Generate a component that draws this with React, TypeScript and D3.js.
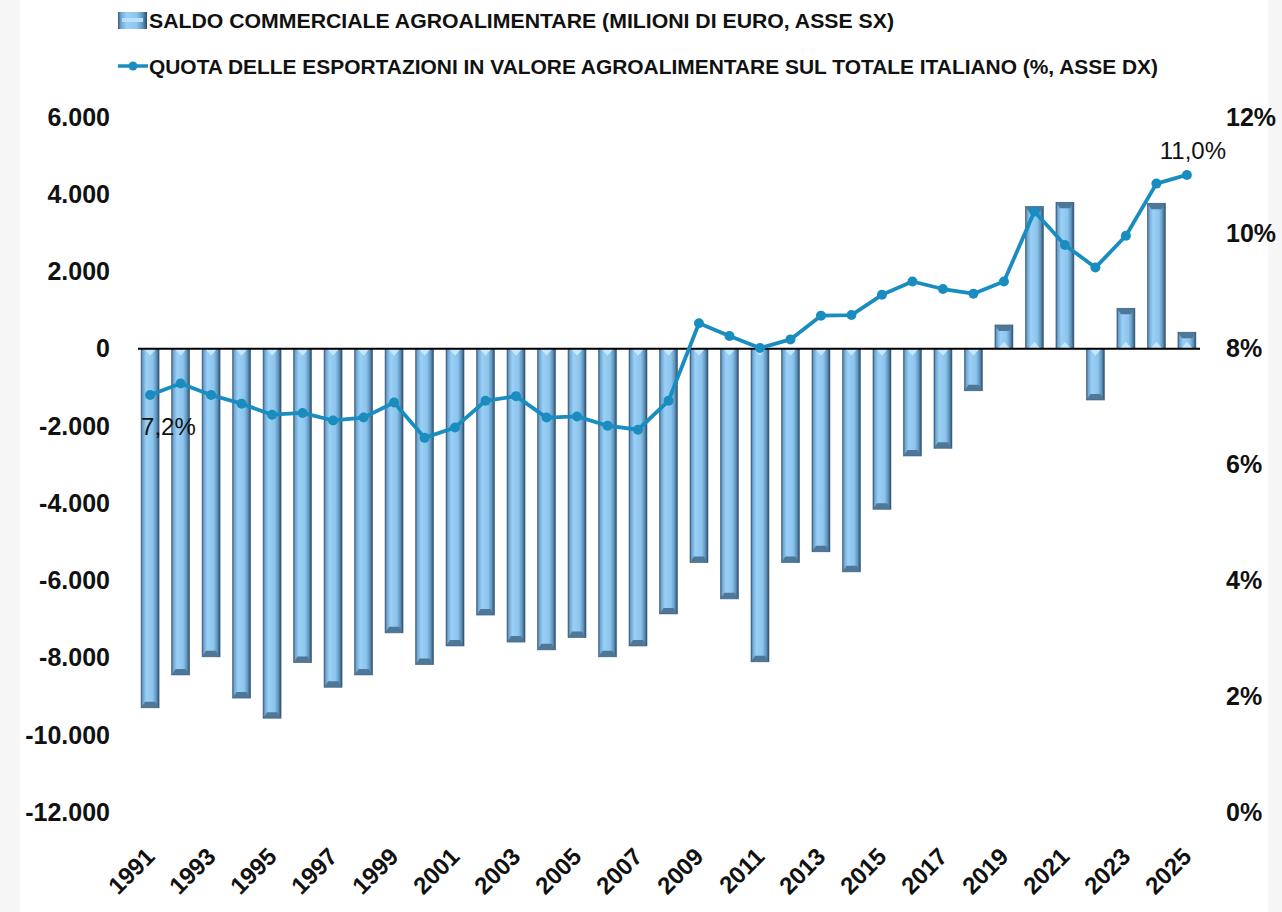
import React, { useRef, useEffect } from "react";
import * as d3 from "d3";

const years = d3.range(1991, 2026).map(String);

// saldo commerciale agroalimentare, milioni di euro (asse sx)
const saldo = [
  -9300, -8450, -7980, -9050, -9570, -8130, -8770, -8450, -7360, -8180,
  -7700, -6900, -7600, -7800, -7480, -7980, -7700, -6870, -5540, -6480,
  -8110, -5540, -5260, -5780, -4160, -2780, -2580, -1090, 615, 3680,
  3790, -1330, 1045, 3765, 425,
];

// quota export agroalimentare sul totale, % (asse dx)
const quota = [
  7.2, 7.4, 7.2, 7.05, 6.86, 6.89, 6.76, 6.81, 7.07, 6.46,
  6.64, 7.1, 7.18, 6.81, 6.83, 6.67, 6.6, 7.1, 8.44, 8.22,
  8.01, 8.16, 8.57, 8.58, 8.93, 9.16, 9.03, 8.95, 9.16, 10.37,
  9.79, 9.4, 9.95, 10.85, 11.0,
];

const leftTicks = [6000, 4000, 2000, 0, -2000, -4000, -6000, -8000, -10000, -12000];
const rightTicks = [0, 2, 4, 6, 8, 10, 12];
const xTickYears = years.filter((d, i) => i % 2 === 0);

const legendBar = "SALDO COMMERCIALE AGROALIMENTARE (MILIONI DI EURO, ASSE SX)";
const legendLine = "QUOTA DELLE ESPORTAZIONI IN VALORE AGROALIMENTARE SUL TOTALE ITALIANO (%, ASSE DX)";

const W = 1282;
const H = 912;
const LINE_COLOR = "#1a8dc0";
const FONT = "'Liberation Sans', Arial, sans-serif";

export default function App() {
  const svgRef = useRef<SVGSVGElement>(null);

  useEffect(() => {
    document.body.style.margin = "0";
    const svg = d3.select(svgRef.current);
    svg.selectAll("*").remove();

    const loc = d3.formatLocale({
      decimal: ",",
      thousands: ".",
      grouping: [3],
      currency: ["", ""],
      minus: "-",
    });
    const fmtK = loc.format(",d");

    const x = d3.scaleBand().domain(years).range([135, 1202]).paddingInner(0.41).paddingOuter(0.2);
    const yL = d3.scaleLinear().domain([-12000, 6000]).range([812, 117]);
    const yR = d3.scaleLinear().domain([0, 12]).range([812, 117]);

    svg.append("rect").attr("width", W).attr("height", H).attr("fill", "#ffffff");
    svg.append("rect").attr("width", 20).attr("height", H).attr("fill", "#f6f6f6");
    svg.append("rect").attr("x", W - 14).attr("width", 14).attr("height", H).attr("fill", "#f6f6f6");

    const defs = svg.append("defs");
    const grad = defs.append("linearGradient").attr("id", "barGrad").attr("x1", "0").attr("x2", "1").attr("y1", "0").attr("y2", "0");
    [
      [0, "#36597a"],
      [0.1, "#6fa6d2"],
      [0.3, "#9ad0f6"],
      [0.65, "#8cc4ec"],
      [0.85, "#5f93bc"],
      [1, "#2b4a66"],
    ].forEach(([o, c]) => grad.append("stop").attr("offset", o as number).attr("stop-color", c as string));

    // legend
    const lg = svg.append("g");
    lg.append("rect").attr("x", 118).attr("y", 12).attr("width", 29).attr("height", 17).attr("fill", "url(#barGrad)");
    lg.append("rect").attr("x", 122).attr("y", 18).attr("width", 21).attr("height", 4).attr("fill", "#b8e2fb");
    lg.append("text")
      .attr("x", 149).attr("y", 28)
      .attr("font-family", FONT).attr("font-weight", "bold").attr("font-size", 21)
      .attr("textLength", 745).attr("lengthAdjust", "spacingAndGlyphs")
      .attr("fill", "#111").text(legendBar);
    lg.append("line").attr("x1", 118).attr("x2", 148).attr("y1", 66).attr("y2", 66)
      .attr("stroke", LINE_COLOR).attr("stroke-width", 3.5);
    lg.append("circle").attr("cx", 133).attr("cy", 66).attr("r", 4.5).attr("fill", LINE_COLOR);
    lg.append("text")
      .attr("x", 149).attr("y", 74)
      .attr("font-family", FONT).attr("font-weight", "bold").attr("font-size", 21)
      .attr("textLength", 1009).attr("lengthAdjust", "spacingAndGlyphs")
      .attr("fill", "#111").text(legendLine);

    // left axis labels
    svg.append("g").selectAll("text").data(leftTicks).join("text")
      .attr("x", 110).attr("y", (d) => yL(d)).attr("dy", "0.35em")
      .attr("text-anchor", "end")
      .attr("font-family", FONT).attr("font-weight", "bold").attr("font-size", 25)
      .attr("fill", "#111")
      .text((d) => fmtK(d));

    // right axis labels
    svg.append("g").selectAll("text").data(rightTicks).join("text")
      .attr("x", 1226).attr("y", (d) => yR(d)).attr("dy", "0.35em")
      .attr("text-anchor", "start")
      .attr("font-family", FONT).attr("font-weight", "bold").attr("font-size", 25)
      .attr("fill", "#111")
      .text((d) => d + "%");

    // bars
    const bw = x.bandwidth();
    const bars = svg.append("g").selectAll("g").data(years).join("g");
    bars.each(function (yr, i) {
      const g = d3.select(this);
      const v = saldo[i];
      const x0 = x(yr)!;
      const x1 = x0 + bw;
      const y0 = yL(0);
      const y1 = yL(v);
      const dir = v < 0 ? 1 : -1;
      g.append("rect")
        .attr("x", x0).attr("width", bw)
        .attr("y", Math.min(y0, y1)).attr("height", Math.abs(y1 - y0))
        .attr("fill", "url(#barGrad)");
      // light chevron at zero end
      g.append("polygon")
        .attr("points", [[x0 + 3, y0], [x1 - 3, y0], [x0 + bw / 2, y0 + dir * 7]].map((p) => p.join(",")).join(" "))
        .attr("fill", "#c4e9fd");
      // bevel at far end
      g.append("polygon")
        .attr("points", [[x0, y1], [x1, y1], [x1 - 4, y1 - dir * 6], [x0 + 4, y1 - dir * 6]].map((p) => p.join(",")).join(" "))
        .attr("fill", "#4f7798");
      g.append("rect")
        .attr("x", x0).attr("width", bw)
        .attr("y", Math.min(y0, y1)).attr("height", Math.abs(y1 - y0))
        .attr("fill", "none").attr("stroke", "#3a5d7c").attr("stroke-width", 0.8).attr("stroke-opacity", 0.7);
    });

    // zero line
    svg.append("line")
      .attr("x1", 138).attr("x2", 1200)
      .attr("y1", yL(0)).attr("y2", yL(0))
      .attr("stroke", "#000").attr("stroke-width", 2);

    // line series
    const cx = (i: number) => x(years[i])! + bw / 2;
    const line = d3.line<number>().x((d, i) => cx(i)).y((d) => yR(d));
    svg.append("path").datum(quota)
      .attr("d", line)
      .attr("fill", "none").attr("stroke", LINE_COLOR).attr("stroke-width", 3.8)
      .attr("stroke-linejoin", "round");
    svg.append("g").selectAll("circle").data(quota).join("circle")
      .attr("cx", (d, i) => cx(i)).attr("cy", (d) => yR(d)).attr("r", 5)
      .attr("fill", LINE_COLOR);

    // data labels
    const lab = d3.format(".1f");
    svg.append("text")
      .attr("x", cx(0) - 9).attr("y", yR(quota[0]) + 40)
      .attr("font-family", FONT).attr("font-size", 24).attr("fill", "#111")
      .text(lab(quota[0]).replace(".", ",") + "%");
    const last = quota.length - 1;
    svg.append("text")
      .attr("x", cx(last) + 6).attr("y", yR(quota[last]) - 16)
      .attr("text-anchor", "middle")
      .attr("font-family", FONT).attr("font-size", 24).attr("fill", "#111")
      .text(lab(quota[last]).replace(".", ",") + "%");

    // x labels
    svg.append("g").selectAll("text").data(xTickYears).join("text")
      .attr("transform", (d) => `translate(${x(d)! + bw / 2 + 6},${858}) rotate(-45)`)
      .attr("text-anchor", "end")
      .attr("font-family", FONT).attr("font-weight", "bold").attr("font-size", 24)
      .attr("fill", "#111")
      .text((d) => d);
  }, []);

  return <svg ref={svgRef} width={W} height={H} style={{ display: "block" }} />;
}
